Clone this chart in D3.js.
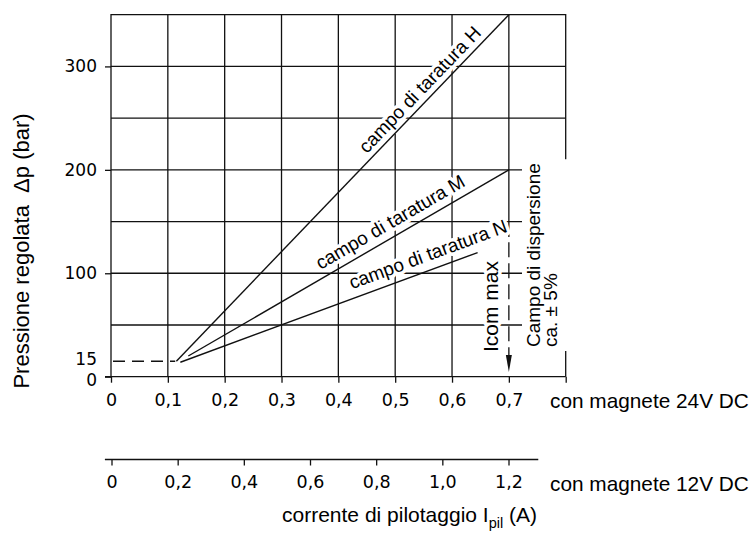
<!DOCTYPE html>
<html>
<head>
<meta charset="utf-8">
<script src="https://cdn.jsdelivr.net/npm/d3@7"></script>
<style>
    body { margin: 0; background: #fff; }
    svg { display: block; }
    text { font-family: "Liberation Sans", Arial, Helvetica, sans-serif; fill: #000; }
</style>
</head>
<body>
<svg width="754" height="533"></svg>
<script>
// current with the 24V DC magnet (A)
var current24Ticks = [0, 0.1, 0.2, 0.3, 0.4, 0.5, 0.6, 0.7, 0.8];
var current24Labels = ["0", "0,1", "0,2", "0,3", "0,4", "0,5", "0,6", "0,7", ""];
// current with the 12V DC magnet (A)
var current12Ticks = [0, 0.2, 0.4, 0.6, 0.8, 1.0, 1.2];
var current12Labels = ["0", "0,2", "0,4", "0,6", "0,8", "1,0", "1,2"];
// pressure (bar)
var pressureTicks = [0, 15, 100, 200, 300];
var pressureGrid = [50, 100, 150, 200, 250, 300];
var currentGrid = [0.1, 0.2, 0.3, 0.4, 0.5, 0.6];

// calibration ranges, straight lines start -> end
var curveNames = ["campo di taratura H", "campo di taratura M", "campo di taratura N"];
var curveStartCurrent = [0.115, 0.136, 0.122];
var curveStartPressure = [15, 20, 14];
var curveEndCurrent = [0.70, 0.70, 0.645];
var curveEndPressure = [350, 200, 120];

// minimum pressure (dashed) and max control current
var minPressure = 15;
var minPressureCurrent = [0, 0.113];
var icomMax = 0.7;
var icomDashPressure = [130, 21];
var icomArrowTip = 4.5;

var svg = d3.select("svg");
svg.append("rect").attr("width", 754).attr("height", 533).attr("fill", "#fff");

var x = d3.scaleLinear().domain([0, 0.8]).range([111, 565.7]);
var x12 = d3.scaleLinear().domain([0, 1.2]).range([111.5, 508.5]);
var y = d3.scaleLinear().domain([0, 350]).range([376.7, 14.7]);

var ink = "#111";
var numFont = "'DejaVu Sans', sans-serif";

// grid
var grid = svg.append("g").attr("stroke", ink).attr("stroke-width", 1.3);
grid.selectAll(".h").data(pressureGrid).enter().append("line")
    .attr("x1", x(0)).attr("x2", x(0.8))
    .attr("y1", function(d) { return y(d); }).attr("y2", function(d) { return y(d); });
grid.selectAll(".v").data(currentGrid).enter().append("line")
    .attr("y1", y(0)).attr("y2", y(350))
    .attr("x1", function(d) { return x(d); }).attr("x2", function(d) { return x(d); });
// 0.7 line: solid at the top part
grid.append("line").attr("x1", x(icomMax)).attr("x2", x(icomMax))
    .attr("y1", y(350)).attr("y2", y(135));
// frame
grid.append("path").attr("fill", "none")
    .attr("d", "M" + x(0) + "," + y(0) + "V" + y(350) + "H" + x(0.8) + "V" + y(0));

// y axis
var yAxis = svg.append("g")
    .attr("transform", "translate(" + x(0) + ",0)")
    .call(d3.axisLeft(y).tickValues(pressureTicks).tickSize(6).tickPadding(8));
yAxis.select(".domain").remove();
yAxis.selectAll(".tick line").attr("stroke", ink).attr("stroke-width", 1.3)
    .filter(function(d) { return d == minPressure; }).remove();
yAxis.selectAll(".tick text")
    .style("font-family", numFont).style("font-size", "17px").attr("fill", "#000")
    .attr("dy", function(d) { return d == 0 ? "0.5em" : d == minPressure ? "0.22em" : "0.32em"; });

// x axis 24V
var xAxis = svg.append("g")
    .attr("transform", "translate(0," + y(0) + ")")
    .call(d3.axisBottom(x).tickValues(current24Ticks).tickSize(6).tickSizeOuter(0).tickPadding(11)
        .tickFormat(function(d, i) { return current24Labels[i]; }));
xAxis.select(".domain").attr("stroke", ink).attr("stroke-width", 1.3)
    .attr("d", "M" + (x(0) - 6) + ",0H" + x(0.8));
xAxis.selectAll(".tick line").attr("stroke", ink).attr("stroke-width", 1.3);
xAxis.selectAll(".tick text")
    .style("font-family", numFont).style("font-size", "17.5px").attr("fill", "#000");

// x axis 12V
var x12Axis = svg.append("g")
    .attr("transform", "translate(0,459.5)")
    .call(d3.axisBottom(x12).tickValues(current12Ticks).tickSize(6).tickSizeOuter(0).tickPadding(10.5)
        .tickFormat(function(d, i) { return current12Labels[i]; }));
x12Axis.select(".domain").attr("stroke", ink).attr("stroke-width", 1.3)
    .attr("d", "M" + x12(-0.02) + ",0H" + x12(1.29));
x12Axis.selectAll(".tick line").attr("stroke", ink).attr("stroke-width", 1.3);
x12Axis.selectAll(".tick text")
    .style("font-family", numFont).style("font-size", "17.5px").attr("fill", "#000");

// captions
svg.append("text").attr("x", 550).attr("y", 407.5).attr("font-size", 20.8).text("con magnete 24V DC");
svg.append("text").attr("x", 550).attr("y", 490.5).attr("font-size", 20.8).text("con magnete 12V DC");

var xTitle = svg.append("text").attr("x", 537).attr("y", 522).attr("text-anchor", "end").attr("font-size", 21);
xTitle.append("tspan").text("corrente di pilotaggio I");
xTitle.append("tspan").attr("font-size", 14.5).attr("dy", 6).text("pil");
xTitle.append("tspan").attr("dy", -6).text(" (A)");

svg.append("text")
    .attr("transform", "translate(28.5,251) rotate(-90)")
    .attr("text-anchor", "middle").attr("font-size", 22)
    .text("Pressione regolata \u00a0\u0394p (bar)");

// curve labels, placed along each line
var labelCurrent = [0.559, 0.504, 0.567];
var labelOffset = [6, 8, 9];
curveNames.forEach(function(name, i) {
    var x0 = x(curveStartCurrent[i]), y0 = y(curveStartPressure[i]);
    var x1 = x(curveEndCurrent[i]), y1 = y(curveEndPressure[i]);
    var ang = Math.atan2(y1 - y0, x1 - x0) * 180 / Math.PI;
    var px = x(labelCurrent[i]);
    var py = y0 + (px - x0) * (y1 - y0) / (x1 - x0);
    svg.append("text")
        .attr("transform", "translate(" + px + "," + py + ") rotate(" + ang + ")")
        .attr("dy", -labelOffset[i])
        .attr("text-anchor", "middle").attr("font-size", 19)
        .attr("stroke", "#fff").attr("stroke-width", 7).attr("stroke-linejoin", "round")
        .attr("paint-order", "stroke")
        .text(name);
});

// curves
svg.selectAll(".curve").data(curveNames).enter().append("line")
    .attr("stroke", ink).attr("stroke-width", 1.4)
    .attr("x1", function(d, i) { return x(curveStartCurrent[i]); })
    .attr("y1", function(d, i) { return y(curveStartPressure[i]); })
    .attr("x2", function(d, i) { return x(curveEndCurrent[i]); })
    .attr("y2", function(d, i) { return y(curveEndPressure[i]); });

// minimum pressure dashed line
svg.append("line").attr("stroke", ink).attr("stroke-width", 1.4).attr("stroke-dasharray", "12,7")
    .attr("x1", x(minPressureCurrent[0]) + 2).attr("x2", x(minPressureCurrent[1]))
    .attr("y1", y(minPressure)).attr("y2", y(minPressure));

// Icom max dashed marker with arrow
svg.append("line").attr("stroke", ink).attr("stroke-width", 1.3).attr("stroke-dasharray", "15,6")
    .attr("x1", x(icomMax)).attr("x2", x(icomMax))
    .attr("y1", y(icomDashPressure[0])).attr("y2", y(icomDashPressure[1]));
svg.append("path").attr("fill", ink)
    .attr("d", "M" + (x(icomMax) - 3) + "," + y(icomDashPressure[1]) +
        "L" + (x(icomMax) + 3) + "," + y(icomDashPressure[1]) +
        "L" + x(icomMax) + "," + y(icomArrowTip) + "Z");

svg.append("text")
    .attr("transform", "translate(" + (x(icomMax) - 11) + ",352) rotate(-90)")
    .attr("font-size", 21)
    .attr("stroke", "#fff").attr("stroke-width", 7).attr("stroke-linejoin", "round")
    .attr("paint-order", "stroke")
    .text("Icom max");

// dispersion note with white block behind it
var mask = svg.append("rect").attr("fill", "#fff");
var note = svg.append("g");
note.append("text").attr("transform", "translate(540,347) rotate(-90)")
    .attr("font-size", 19).text("Campo di dispersione");
note.append("text").attr("transform", "translate(557,347) rotate(-90)")
    .attr("font-size", 19).text("ca. \u00b1 5%");
var bb = note.node().getBBox();
mask.attr("x", bb.x - 1).attr("y", bb.y - 4)
    .attr("width", x(0.8) + 4 - (bb.x - 1)).attr("height", bb.height + 8);
</script>
</body>
</html>
